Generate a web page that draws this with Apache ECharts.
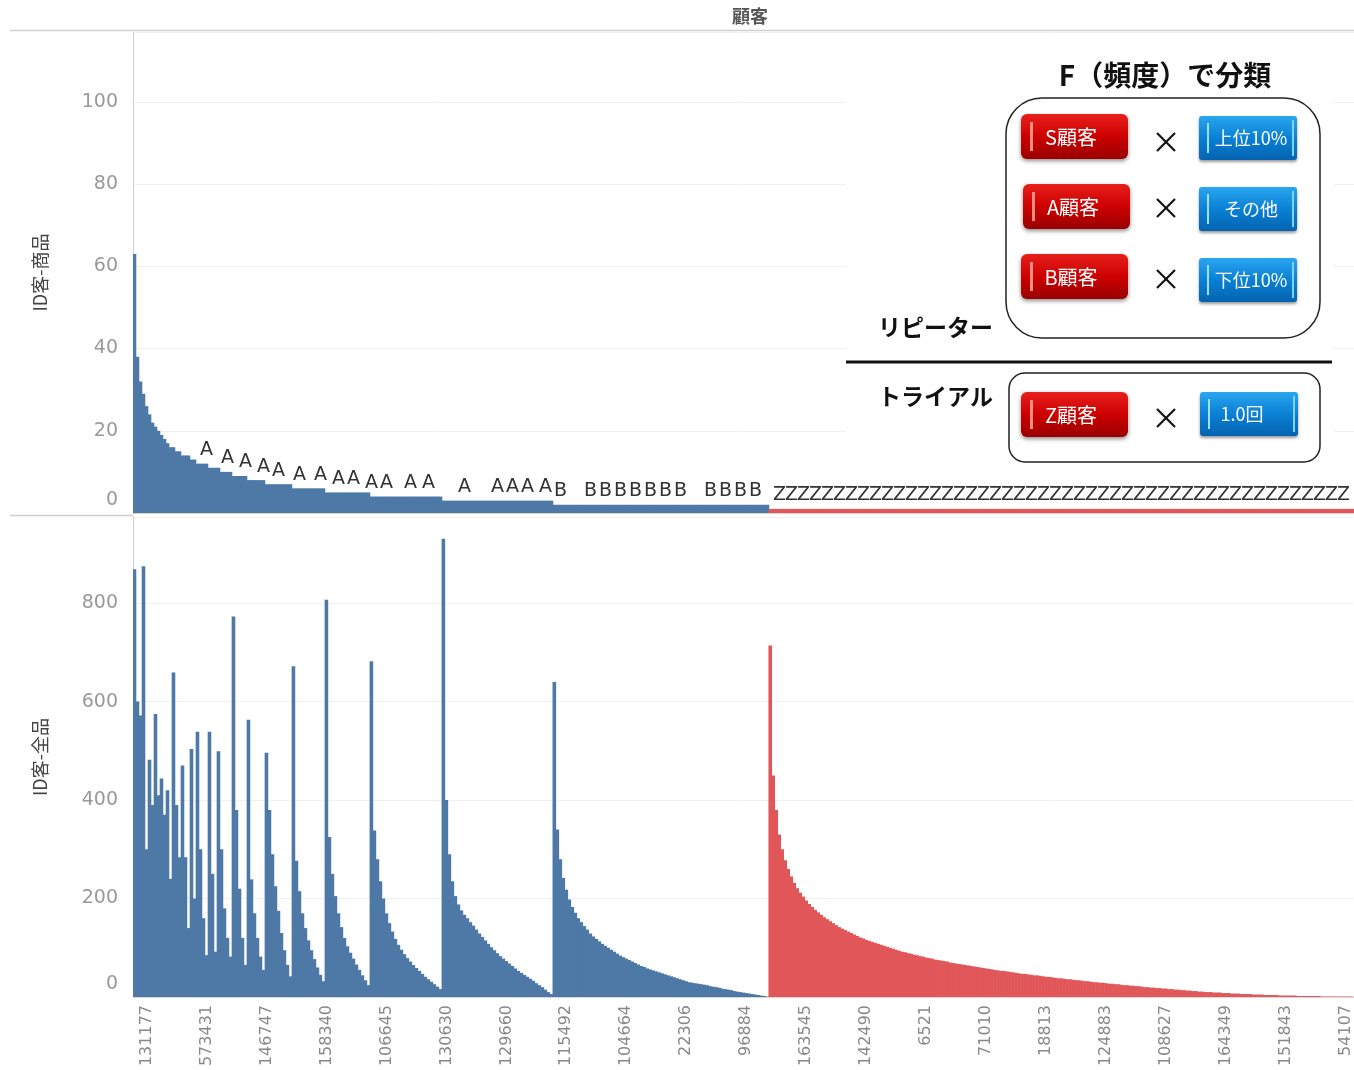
<!DOCTYPE html>
<html>
<head>
<meta charset="utf-8">
<title>顧客</title>
<script src="https://cdn.jsdelivr.net/npm/echarts@6/dist/echarts.min.js"></script>
<style>
  html, body { margin: 0; padding: 0; background: #fff; }
  #chart { width: 1354px; height: 1070px; }
</style>
</head>
<body>
<div id="chart"></div>
<script>
// ---------------- data ----------------
// x axis: customers, one bar per customer bucket; only every 20th id is printed
var tickIds = ['131177', '573431', '146747', '158340', '106645', '130630', '129660',
  '115492', '104664', '22306', '96884', '163545', '142490', '6521', '71010', '18813',
  '124883', '108627', '164349', '151843', '54107'];

// top panel (ID客-商品): purchase count, as runs of [count, number of bars]
var freqRuns = [[63, 1], [38, 1], [32, 1], [29, 1], [26, 1], [24, 1], [22, 1], [21, 1],
  [20, 1], [19, 1], [18, 1], [17, 1], [16, 2], [15, 2], [14, 3], [13, 2], [12, 4],
  [11, 4], [10, 4], [9, 5], [8, 6], [7, 9], [6, 11], [5, 15], [4, 24], [3, 37],
  [2, 72], [1, 195]];

// bottom panel (ID客-全品): amount per customer, group by group (same count)
var amtHead = [869, 600, 572, 875, 300, 482, 390, 575, 410, 444, 370, 420, 240];
var amtG15 = [659, 390, 284];
var amtG14 = [470, 284, 140];
var amtG13 = [504, 200];
var amtG12 = [539, 300, 160, 85];
var amtG11 = [539, 250, 92];
var amtG10 = [499, 300, 180, 120, 82];
var amtG9 = [773, 380, 220, 120, 65];
var amtG8 = [563, 239, 170, 120, 82, 55];
var amtG7 = [496, 380, 290, 225, 175, 130, 95, 65, 42];
var amtG6 = [672, 277, 215, 170, 140, 115, 95, 77, 60, 45, 32];
var amtG5 = [807, 325, 250, 205, 170, 142, 120, 103, 90, 78, 66, 55, 44, 34, 24];
var amtG4 = [682, 338, 280, 235, 200, 170, 150, 133, 118, 106, 96, 87, 79, 72, 65, 59,
  53, 47, 41, 36, 31, 26, 21, 16];
var amtG3 = [931, 400, 290, 235, 205, 188, 176, 167, 160, 152, 145, 137, 129, 122, 115,
  108, 101, 95, 89, 83, 78, 73, 68, 63, 58, 53, 49, 45, 41, 37, 33, 28, 24, 20, 15, 10, 6];
var amtG2 = [640, 340, 280, 242, 218, 198, 183, 171, 160, 152, 144, 137, 129, 123, 118,
  113, 108, 104, 100, 96, 92, 88, 84, 81, 78, 75, 72, 69, 66, 63, 61, 58, 56, 54, 52, 50,
  48, 46, 44, 42, 40, 38, 36, 34, 32, 30, 29, 28, 27, 26, 25, 24, 22, 21, 20, 19, 17, 16,
  15, 14, 12, 11, 10, 9, 8, 7, 6, 5, 4, 3, 2, 1];
var amtG1 = [714, 450, 380, 330, 300, 278, 260, 245, 232, 221,
  212, 204, 196, 189, 183, 177, 172, 167, 162, 158,
  154, 150, 146, 142, 139, 136, 133, 130, 127, 124,
  121, 119, 116, 114, 112, 110, 108, 106, 104, 102,
  100, 98, 96, 94, 92, 91, 89, 88, 86, 85,
  83, 82, 80, 79, 78, 76, 75, 74, 73, 72,
  70, 69, 68, 67, 66, 65, 64, 63, 62, 61,
  60, 59, 58, 57, 56, 55, 54, 53, 53, 52,
  51, 50, 49, 48, 47, 47, 46, 45, 44, 44,
  43, 42, 41, 41, 40, 39, 38, 38, 37, 36,
  36, 35, 34, 34, 33, 32, 32, 31, 30, 30,
  29, 29, 28, 27, 27, 26, 26, 25, 24, 24,
  23, 23, 22, 22, 21, 20, 20, 19, 19, 18,
  18, 17, 17, 16, 16, 15, 15, 14, 14, 13,
  13, 12, 12, 11, 11, 10, 10, 10, 9, 9,
  9, 8, 8, 8, 7, 7, 7, 6, 6, 6,
  6, 5, 5, 5, 5, 4, 4, 4, 4, 4,
  3, 3, 3, 3, 3, 3, 2, 2, 2, 2,
  2, 2, 2, 2, 1, 1, 1, 1, 1, 1,
  1, 1, 1, 1, 1];

// bars that carry a rank letter in the top panel
var labelA = [24, 31, 37, 43, 48, 55, 62, 68, 73, 79, 84, 92, 98, 110, 121, 126, 131, 137];
var labelB = [142, 152, 157, 162, 167, 172, 177, 182, 192, 197, 202, 207];

// ---------------- build ----------------
var BLUE = '#4e79a7', RED = '#e15759';
var freq = [];
freqRuns.forEach(function (r) { for (var i = 0; i < r[1]; i++) freq.push(r[0]); });
var amount = [].concat(amtHead, amtG15, amtG14, amtG13, amtG12, amtG11, amtG10, amtG9,
  amtG8, amtG7, amtG6, amtG5, amtG4, amtG3, amtG2, amtG1);
var N = amount.length;

var cats = [];
for (var i = 0; i < N; i++) cats.push(i % 20 === 4 ? tickIds[(i - 4) / 20] : '#' + i);

var shown = {};
labelA.concat(labelB).forEach(function (i) { shown[i] = true; });
for (var z = 215; z < N; z += 4) shown[z] = true;

function rankOf(i) { return freq[i] === 1 ? 'Z' : (freq[i] === 2 ? 'B' : 'A'); }
function colorOf(p) { return freq[p.dataIndex] === 1 ? RED : BLUE; }

var topData = freq.map(function (v, i) {
  return shown[i] ? { value: v, label: { show: true } } : v;
});

var tickFont = 'DejaVu Sans';
function yLabel() {
  return {
    color: '#999', fontSize: 19, fontFamily: tickFont, margin: 15,
    showMaxLabel: false,
    formatter: function (v) { return v === 0 ? '{z|0}' : v; },
    rich: { z: { color: '#999', fontSize: 19, fontFamily: tickFont, padding: [0, 0, 26, 0] } }
  };
}

// overlay panel helpers
function redBtn(x, y, text) {
  return [
    { type: 'rect', z: 100, shape: { x: x, y: y, width: 107, height: 45, r: 6 },
      style: { fill: new echarts.graphic.LinearGradient(0, 0, 0, 1, [
        { offset: 0, color: '#e8201c' }, { offset: 0.5, color: '#cc0000' }, { offset: 1, color: '#9a0000' }]),
        shadowBlur: 4, shadowColor: 'rgba(0,0,0,0.45)', shadowOffsetY: 2 } },
    { type: 'rect', z: 101, shape: { x: x + 9, y: y + 8, width: 3, height: 29 },
      style: { fill: '#ff8a80' } },
    { type: 'text', z: 102, style: { x: x + 50, y: y + 23, text: text, fill: '#fff',
      font: '20px "Noto Sans CJK JP"', textAlign: 'center', textVerticalAlign: 'middle' } }
  ];
}
function blueBtn(x, y, text, tx) {
  return [
    { type: 'rect', z: 100, shape: { x: x, y: y, width: 98, height: 44, r: 3 },
      style: { fill: new echarts.graphic.LinearGradient(0, 0, 0, 1, [
        { offset: 0, color: '#2aa6f0' }, { offset: 0.5, color: '#0a80d4' }, { offset: 1, color: '#0563b0' }]),
        shadowBlur: 3, shadowColor: 'rgba(0,0,0,0.4)', shadowOffsetY: 2 } },
    { type: 'rect', z: 101, shape: { x: x + 8, y: y + 7, width: 2, height: 30 },
      style: { fill: '#9fe0ff' } },
    { type: 'rect', z: 101, shape: { x: x + 93, y: y + 4, width: 2, height: 36 },
      style: { fill: '#7fd4ff' } },
    { type: 'text', z: 102, style: { x: x + (tx || 52), y: y + 22, text: text, fill: '#fff',
      font: '18px "Noto Sans CJK JP"', textAlign: 'center', textVerticalAlign: 'middle' } }
  ];
}
function cross(cx, cy) {
  return [
    { type: 'line', z: 100, shape: { x1: cx - 9, y1: cy - 9, x2: cx + 9, y2: cy + 9 },
      style: { stroke: '#111', lineWidth: 2.2 } },
    { type: 'line', z: 100, shape: { x1: cx + 9, y1: cy - 9, x2: cx - 9, y2: cy + 9 },
      style: { stroke: '#111', lineWidth: 2.2 } }
  ];
}
function boldText(x, y, text, size, align) {
  return { type: 'text', z: 100, style: { x: x, y: y, text: text, fill: '#111',
    font: 'bold ' + size + 'px "Noto Sans CJK JP"', textAlign: align, textVerticalAlign: 'middle' } };
}

var graphics = [
  // header and panel separators
  { type: 'text', style: { x: 750, y: 16, text: '顧客', fill: '#555',
    font: 'bold 18px "Noto Sans CJK JP"', textAlign: 'center', textVerticalAlign: 'middle' } },
  { type: 'line', shape: { x1: 10, y1: 30.5, x2: 1354, y2: 30.5 }, style: { stroke: '#d0d0d0', lineWidth: 1.5 } },
  { type: 'line', shape: { x1: 10, y1: 515.5, x2: 133, y2: 515.5 }, style: { stroke: '#d0d0d0', lineWidth: 1.5 } },
  // overlay panel
  { type: 'rect', z: 99, shape: { x: 846, y: 40, width: 488, height: 428 }, style: { fill: '#fff' } },
  boldText(1165, 75, 'F（頻度）で分類', 28, 'center'),
  { type: 'rect', z: 100, shape: { x: 1006, y: 98, width: 314, height: 240, r: 36 },
    style: { fill: 'none', stroke: '#222', lineWidth: 1.5 } },
  boldText(878, 327, 'リピーター', 23, 'left'),
  { type: 'line', z: 100, shape: { x1: 846, y1: 362, x2: 1332, y2: 362 }, style: { stroke: '#111', lineWidth: 3 } },
  boldText(878, 396, 'トライアル', 23, 'left'),
  { type: 'rect', z: 100, shape: { x: 1009, y: 373, width: 311, height: 89, r: 16 },
    style: { fill: 'none', stroke: '#222', lineWidth: 1.5 } }
].concat(
  redBtn(1021, 114, 'S顧客'), redBtn(1023, 184, 'A顧客'), redBtn(1021, 254, 'B顧客'), redBtn(1021, 392, 'Z顧客'),
  blueBtn(1199, 116, '上位10%'), blueBtn(1199, 187, 'その他'), blueBtn(1199, 258, '下位10%'),
  blueBtn(1200, 392, '1.0回', 42),
  cross(1166, 142), cross(1166, 208), cross(1166, 279), cross(1166, 418)
);

var chart = echarts.init(document.getElementById('chart'), null, { renderer: 'canvas' });
var option = {
  animation: false,
  backgroundColor: '#fff',
  grid: [
    { left: 133, right: 0, top: 32, height: 481 },
    { left: 133, right: 0, top: 517, height: 480 }
  ],
  xAxis: [
    { gridIndex: 0, type: 'category', data: cats,
      axisLine: { lineStyle: { color: '#d6d6d6' } }, axisTick: { show: false },
      axisLabel: { show: false }, splitLine: { show: false } },
    { gridIndex: 1, type: 'category', data: cats,
      axisLine: { lineStyle: { color: '#d6d6d6' } }, axisTick: { show: false },
      axisLabel: {
        rotate: 90, color: '#888', fontSize: 16, fontFamily: tickFont, margin: 8,
        interval: function (i) { return i % 20 === 4; }
      },
      splitLine: { show: false } }
  ],
  yAxis: [
    { gridIndex: 0, type: 'value', min: 0, max: 117, interval: 20,
      name: 'ID客-商品', nameLocation: 'middle', nameRotate: 90, nameGap: 84,
      nameTextStyle: { fontSize: 18, color: '#444', fontFamily: 'Noto Sans CJK JP' },
      axisLine: { show: true, lineStyle: { color: '#d0d0d0' } }, axisTick: { show: false },
      axisLabel: yLabel(), splitLine: { lineStyle: { color: '#f0f0f0' } } },
    { gridIndex: 1, type: 'value', min: 0, max: 975, interval: 200,
      name: 'ID客-全品', nameLocation: 'middle', nameRotate: 90, nameGap: 84,
      nameTextStyle: { fontSize: 18, color: '#444', fontFamily: 'Noto Sans CJK JP' },
      axisLine: { show: true, lineStyle: { color: '#d0d0d0' } }, axisTick: { show: false },
      axisLabel: yLabel(), splitLine: { lineStyle: { color: '#f0f0f0' } } }
  ],
  series: [
    { name: 'ID客-商品', type: 'bar', xAxisIndex: 0, yAxisIndex: 0, large: false,
      barWidth: 3.6, data: topData,
      itemStyle: { color: colorOf },
      label: { show: false, position: 'top', distance: 4, color: '#333', fontSize: 19,
        fontFamily: tickFont, formatter: function (p) { return rankOf(p.dataIndex); } } },
    { name: 'ID客-全品', type: 'bar', xAxisIndex: 1, yAxisIndex: 1, large: false,
      barWidth: 3.6, data: amount,
      itemStyle: { color: colorOf } }
  ],
  graphic: graphics
};
chart.setOption(option);
</script>
</body>
</html>
